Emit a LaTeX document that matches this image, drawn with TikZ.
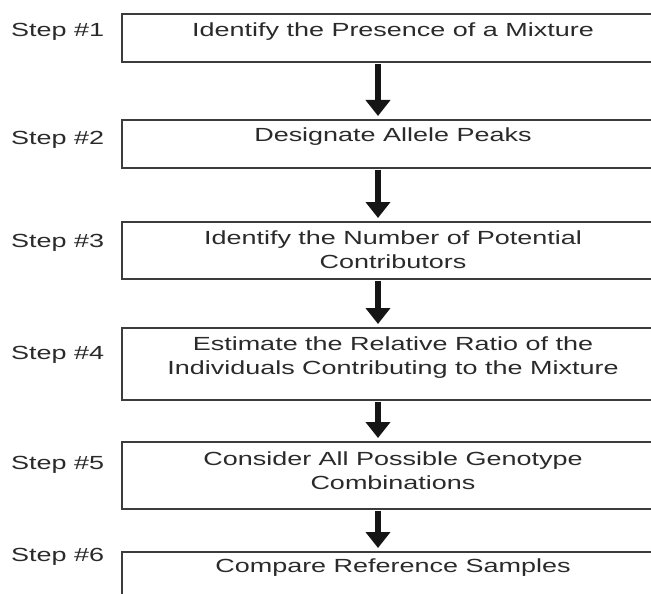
\documentclass[tikz,border=0pt]{standalone}
\usepackage{fontspec}
\setmainfont[FakeStretch=1.42]{Liberation Sans}
\usetikzlibrary{arrows.meta}
\definecolor{boxgray}{HTML}{3C3C3C}
\definecolor{txtgray}{HTML}{2A2A2A}
\definecolor{arrblack}{HTML}{151515}
\begin{document}
\begin{tikzpicture}[x=1pt,y=-1pt,
  stepbox/.style={draw=boxgray, line width=2pt, minimum width=542pt, inner sep=0pt, rectangle},
  steptext/.style={text=txtgray, font=\fontsize{19}{24}\selectfont, align=center, inner sep=0pt, anchor=center},
  steplabel/.style={text=txtgray, font=\fontsize{19}{24}\selectfont, inner sep=0pt, anchor=west},
  flowarrow/.style={draw=arrblack, line width=5.5pt, -{Triangle[width=24pt,length=16pt]}, shorten <=1pt, shorten >=3pt}
]
\useasboundingbox (0,0) rectangle (651,594);
\clip (0,0) rectangle (651,594);
\coordinate (ax) at (378,0);

\node[stepbox, minimum height=48pt] (b1) at (393,38) {};
\node[stepbox, minimum height=48pt] (b2) at (393,144) {};
\node[stepbox, minimum height=57pt] (b3) at (393,250.5) {};
\node[stepbox, minimum height=72pt] (b4) at (393,364) {};
\node[stepbox, minimum height=67pt] (b5) at (393,475.5) {};
\node[stepbox, minimum height=70pt] (b6) at (393,587) {};

\node[steptext] (t1) at (393,32) {Identify the Presence of a Mixture};
\node[steptext] (t2) at (393,137) {Designate Allele Peaks};
\node[steptext] (t3) at (393,250) {Identify the Number of Potential\\Contributors};
\node[steptext] (t4) at (393,358) {Estimate the Relative Ratio of the\\Individuals Contributing to the Mixture};
\node[steptext] (t5) at (393,471) {Consider All Possible Genotype\\Combinations};
\node[steptext] (t6) at (393,568) {Compare Reference Samples};

\node[steplabel] (s1) at (11,32) {Step \#1};
\node[steplabel] (s2) at (11,140) {Step \#2};
\node[steplabel] (s3) at (11,243) {Step \#3};
\node[steplabel] (s4) at (11,355) {Step \#4};
\node[steplabel] (s5) at (11,465) {Step \#5};
\node[steplabel] (s6) at (11,557) {Step \#6};

\draw[flowarrow] (b1.south -| ax) -- (b2.north -| ax);
\draw[flowarrow] (b2.south -| ax) -- (b3.north -| ax);
\draw[flowarrow] (b3.south -| ax) -- (b4.north -| ax);
\draw[flowarrow] (b4.south -| ax) -- (b5.north -| ax);
\draw[flowarrow] (b5.south -| ax) -- (b6.north -| ax);
\end{tikzpicture}
\end{document}
